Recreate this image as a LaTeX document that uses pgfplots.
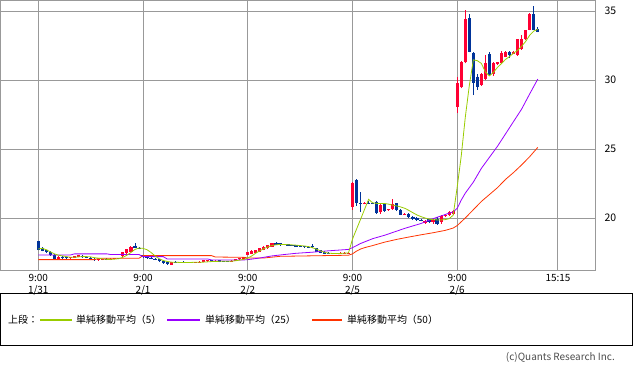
\documentclass[border=0pt]{standalone}
\usepackage{fontspec}
\setmainfont{Noto Sans CJK JP}
\usepackage{pgfplots}
\usepackage{pgfplotstable}
\pgfplotsset{compat=1.18}
\definecolor{gridgray}{RGB}{153,153,153}
\definecolor{upred}{RGB}{255,0,51}
\definecolor{dnblue}{RGB}{0,51,153}
\definecolor{maA}{RGB}{153,204,0}
\definecolor{maB}{RGB}{153,0,255}
\definecolor{maC}{RGB}{255,51,0}

\pgfplotstableread{
g o h l c up
0 18.30 18.35 17.65 17.70 0
1 17.85 17.90 17.58 17.60 0
2 17.65 17.70 17.45 17.50 0
3 17.55 17.60 17.25 17.30 0
4 17.35 17.38 17.00 17.05 0
5 17.05 17.22 17.00 17.20 1
6 17.20 17.25 17.05 17.10 0
7 17.15 17.20 17.05 17.10 0
8 17.10 17.20 17.05 17.15 1
9 17.12 17.28 17.10 17.25 1
10 17.20 17.35 17.18 17.32 1
11 17.28 17.30 17.10 17.15 0
12 17.16 17.20 17.08 17.12 0
13 17.12 17.15 16.95 17.00 0
14 17.05 17.10 16.90 16.95 0
15 16.95 17.05 16.90 17.02 1
16 17.00 17.05 16.95 17.04 1
17 17.06 17.10 16.95 17.00 0
18 17.00 17.10 16.95 17.06 1
19 17.05 17.10 17.00 17.09 1
20 17.10 17.12 17.00 17.05 0
21 17.25 17.52 17.20 17.50 1
22 17.45 17.76 17.40 17.72 1
23 17.56 17.95 17.50 17.90 1
24 18.00 18.18 17.80 17.82 0
25 17.86 17.90 17.78 17.82 0
26 17.30 17.35 17.10 17.15 0
27 17.22 17.25 17.05 17.10 0
28 17.10 17.15 17.00 17.04 0
29 17.05 17.10 16.95 17.00 0
30 17.00 17.05 16.80 16.85 0
31 16.86 16.90 16.70 16.75 0
32 16.80 16.85 16.60 16.65 0
33 16.62 16.82 16.58 16.80 1
34 16.82 16.85 16.77 16.79 0
35 16.81 16.83 16.77 16.78 0
36 16.81 16.85 16.76 16.78 0
37 16.80 16.82 16.77 16.78 0
38 16.80 16.84 16.76 16.77 0
39 16.78 16.82 16.76 16.81 1
40 16.80 16.85 16.78 16.83 1
41 16.82 16.95 16.80 16.93 1
42 16.85 16.96 16.84 16.93 1
43 16.92 16.95 16.85 16.88 0
44 16.86 16.92 16.84 16.90 1
45 16.95 16.98 16.80 16.82 0
46 16.86 16.90 16.82 16.84 0
47 16.86 16.90 16.82 16.84 0
48 16.85 16.95 16.82 16.89 1
49 16.90 17.05 16.88 17.02 1
50 17.00 17.12 16.95 17.08 1
51 17.05 17.18 17.02 17.15 1
52 17.35 17.55 17.30 17.50 1
53 17.40 17.65 17.38 17.63 1
54 17.48 17.68 17.45 17.65 1
55 17.56 17.82 17.55 17.80 1
56 17.68 17.95 17.65 17.92 1
57 17.80 18.06 17.78 18.04 1
58 17.92 18.22 17.90 18.20 1
59 18.21 18.24 18.02 18.04 0
60 18.16 18.20 18.00 18.04 0
61 18.05 18.12 18.02 18.10 1
62 18.11 18.13 17.98 18.00 0
63 18.03 18.06 17.97 18.00 0
64 18.02 18.05 17.90 17.93 0
65 18.00 18.03 17.90 17.94 0
66 17.99 18.00 17.85 17.87 0
67 17.90 17.95 17.82 17.88 0
68 17.98 18.10 17.85 17.87 0
69 17.80 17.82 17.55 17.56 0
70 17.66 17.70 17.43 17.44 0
71 17.55 17.58 17.38 17.40 0
72 17.45 17.50 17.38 17.43 0
73 17.45 17.48 17.38 17.40 0
74 17.40 17.47 17.38 17.45 1
75 17.42 17.50 17.40 17.48 1
76 17.44 17.50 17.42 17.48 1
77 17.45 17.50 17.42 17.47 1
78 20.82 22.60 20.60 22.56 1
79 22.75 22.80 20.90 21.06 0
80 21.05 21.90 20.45 20.98 0
81 21.00 21.15 20.98 21.10 1
82 21.10 21.20 21.00 21.05 0
83 21.08 21.12 21.00 21.03 0
84 21.18 21.22 20.30 20.35 0
85 20.40 21.00 20.30 20.95 1
86 21.00 21.05 20.45 20.50 0
87 20.55 20.68 20.52 20.62 1
88 20.65 21.35 20.60 21.00 1
89 21.05 21.10 20.50 20.55 0
90 20.60 20.65 20.20 20.25 0
91 20.25 20.38 20.20 20.32 1
92 20.30 20.35 20.00 20.05 0
93 20.10 20.15 19.85 19.90 0
94 20.00 20.05 19.80 19.85 0
95 19.85 19.90 19.75 19.80 0
96 19.65 19.85 19.60 19.80 1
97 19.90 19.95 19.65 19.70 0
98 19.70 19.90 19.60 19.85 1
99 19.95 20.05 19.50 19.60 0
100 19.70 20.20 19.60 20.15 1
101 20.15 20.25 20.10 20.20 1
102 20.20 20.50 20.15 20.45 1
103 20.30 20.55 20.25 20.50 1
104 28.07 30.20 27.60 29.80 1
105 29.47 31.40 29.40 31.33 1
106 31.28 35.07 31.20 34.42 1
107 34.47 34.78 32.00 32.00 0
108 31.98 32.00 28.90 29.80 0
109 30.24 30.40 29.30 29.50 0
110 29.64 30.50 29.60 30.43 1
111 30.05 31.81 30.00 31.21 1
112 31.88 32.05 30.30 30.36 0
113 30.43 31.30 30.30 31.25 1
114 31.16 31.33 31.10 31.33 1
115 31.21 32.12 31.20 31.93 1
116 31.69 32.10 31.65 32.05 1
117 32.05 32.08 31.60 31.81 0
118 31.88 32.10 31.85 32.05 1
119 31.81 32.95 31.75 32.95 1
120 32.22 33.26 32.20 32.95 1
121 32.95 33.65 32.90 33.62 1
122 33.62 34.85 33.60 34.78 1
123 34.78 35.36 33.60 33.62 0
124 33.67 33.85 33.45 33.46 0
}\candles

\begin{document}
\begin{tikzpicture}[x=1bp,y=1bp]
\useasboundingbox (0bp,0bp) rectangle (633bp,370bp);
\begin{axis}[
  at={(0bp,370bp)}, anchor=north west,
  scale only axis, width=595bp, height=270bp,
  xmin=-9.5, xmax=138.2, ymin=16.23, ymax=35.8,
  axis line style={draw=gridgray, line width=0.9bp},
  grid=major, major grid style={draw=gridgray, line width=0.9bp},
  major tick length=0pt, tick style={draw=none},
  xtick={0,26,52,78,104,129},
  xticklabels={{9:00\\1/31},{9:00\\2/1},{9:00\\2/2},{9:00\\2/5},{9:00\\2/6},{15:15}},
  xticklabel style={align=center, font=\fontsize{10}{12.5}\selectfont, inner sep=0bp, yshift=-4bp},
  ytick={20,25,30,35},
  yticklabel pos=right,
  yticklabel style={font=\fontsize{10.5}{12}\selectfont, anchor=west, xshift=6bp},
  /pgf/number format/assume math mode=true,
  colormap={updown}{color(0)=(dnblue) color(1)=(upred)},
  point meta min=0, point meta max=1,
  clip=true,
]
% wicks
\addplot[-, line width=0.9bp, point meta=explicit,
  quiver={u=0, v=\thisrow{h}-\thisrow{l}, colored=mapped color}]
  table[x=g, y=l, meta=up] {\candles};
% bodies
\addplot[-, line width=3.2bp, point meta=explicit,
  quiver={u=0, v=\thisrow{c}-\thisrow{o}, colored=mapped color}]
  table[x=g, y=o, meta=up] {\candles};
% MA50
\addplot[maC, line width=0.8bp] coordinates {
(0,16.98)(14,16.98)(15,17.08)(25,17.08)(26,17.27)(43,17.27)(44,17.17)(51,17.15)(52,17.1)(56,17.1)(60,17.22)(77,17.3)(78,17.4)(79,17.6)(80,17.75)(81,17.85)(83,18.0)(86,18.25)(89,18.45)(92,18.62)(95,18.78)(98,18.93)(101,19.1)(103,19.27)(104,19.45)(106,20.0)(108,20.6)(110,21.2)(112,21.7)(114,22.2)(116,22.8)(118,23.3)(120,23.85)(122,24.45)(124,25.12)};
% MA25
\addplot[maB, line width=0.8bp] coordinates {
(0,17.32)(8,17.32)(9,17.4)(17,17.4)(18,17.35)(25,17.35)(26,17.2)(31,17.2)(32,17.03)(42,17.03)(43,16.96)(51,16.96)(52,16.98)(55,17.1)(58,17.25)(61,17.35)(64,17.44)(68,17.52)(72,17.62)(77,17.72)(78,17.85)(80,18.15)(83,18.5)(86,18.75)(88,18.95)(91,19.25)(95,19.6)(98,19.95)(102,20.35)(103,20.45)(104,20.7)(105,21.3)(106,21.8)(107,22.2)(108,22.6)(110,23.6)(112,24.4)(114,25.2)(116,26.1)(118,27.0)(120,27.9)(122,29.0)(124,30.07)};
% MA5
\addplot[maA, line width=0.8bp] coordinates {
(0,17.75)(1,17.8)(2,17.7)(3,17.55)(4,17.4)(5,17.3)(6,17.25)(7,17.2)(8,17.15)(9,17.15)(10,17.18)(11,17.2)(12,17.2)(13,17.18)(14,17.12)(15,17.08)(16,17.03)(17,17.0)(18,17.0)(19,17.02)(20,17.05)(21,17.15)(22,17.3)(23,17.5)(24,17.72)(25,17.82)(26,17.8)(27,17.7)(28,17.5)(29,17.25)(30,17.05)(31,16.92)(32,16.85)(33,16.8)(34,16.79)(35,16.78)(36,16.78)(37,16.78)(38,16.78)(39,16.79)(40,16.79)(41,16.8)(42,16.82)(43,16.84)(44,16.85)(45,16.86)(46,16.86)(47,16.86)(48,16.87)(49,16.9)(50,16.95)(51,17.0)(52,17.1)(53,17.25)(54,17.45)(55,17.62)(56,17.78)(57,17.9)(58,18.0)(59,18.06)(60,18.08)(61,18.08)(62,18.06)(63,18.05)(64,18.03)(65,18.0)(66,17.97)(67,17.93)(68,17.85)(69,17.75)(70,17.62)(71,17.52)(72,17.45)(73,17.43)(74,17.42)(75,17.43)(76,17.45)(77,17.46)(78,18.47)(79,19.19)(80,19.9)(81,20.63)(82,21.35)(83,21.1)(84,21.06)(85,21.05)(86,21.05)(87,21.0)(88,20.93)(89,20.87)(90,20.8)(91,20.7)(92,20.55)(93,20.38)(94,20.22)(95,20.1)(96,20.0)(97,19.92)(98,19.88)(99,19.86)(100,19.86)(101,19.88)(102,19.95)(103,20.2)(104,22.26)(105,24.5)(106,27.3)(107,29.6)(108,31.46)(109,31.4)(110,31.2)(111,30.58)(112,30.3)(113,30.56)(114,30.92)(115,31.2)(116,31.5)(117,31.7)(118,31.95)(119,32.15)(120,32.45)(121,32.8)(122,33.25)(123,33.55)(124,33.67)};
\end{axis}
% legend box
\draw[draw=black, line width=1bp] (0.5bp,24bp) rectangle (632.5bp,76bp);
\draw[draw={rgb,255:red,153;green,204;blue,0}, line width=1.2bp] (40bp,50bp) -- (72bp,50bp);
\draw[draw={rgb,255:red,153;green,0;blue,255}, line width=1.2bp] (167bp,50bp) -- (200bp,50bp);
\draw[draw={rgb,255:red,255;green,51;blue,0}, line width=1.2bp] (312bp,50bp) -- (342bp,50bp);
\node[anchor=west, inner sep=0pt, font=\fontsize{10}{11}\selectfont] at (8bp,50bp) {上段：};
\node[anchor=west, inner sep=0pt, font=\fontsize{10}{11}\selectfont] at (76bp,50bp) {単純移動平均（5）};
\node[anchor=west, inner sep=0pt, font=\fontsize{10}{11}\selectfont] at (205bp,50bp) {単純移動平均（25）};
\node[anchor=west, inner sep=0pt, font=\fontsize{10}{11}\selectfont] at (347bp,50bp) {単純移動平均（50）};
\node[anchor=east, inner sep=0pt, text=black!70, font=\fontsize{10}{11}\selectfont] at (615bp,13bp) {(c)Quants Research Inc.};
\end{tikzpicture}
\end{document}
